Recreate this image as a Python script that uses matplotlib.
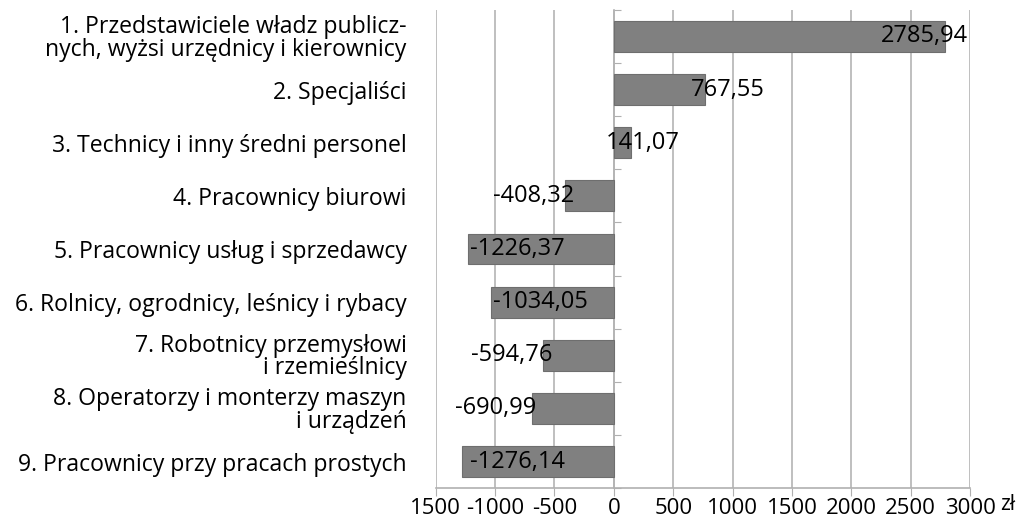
import matplotlib
matplotlib.use("Agg")
from matplotlib import pyplot as plt
import numpy as np

categories = [
    "1. Przedstawiciele władz publicz-\nnych, wyżsi urzędnicy i kierownicy",
    "2. Specjaliści",
    "3. Technicy i inny średni personel",
    "4. Pracownicy biurowi",
    "5. Pracownicy usług i sprzedawcy",
    "6. Rolnicy, ogrodnicy, leśnicy i rybacy",
    "7. Robotnicy przemysłowi\ni rzemieślnicy",
    "8. Operatorzy i monterzy maszyn\ni urządzeń",
    "9. Pracownicy przy pracach prostych",
]
values = [2785.94, 767.55, 141.07, -408.32, -1226.37, -1034.05, -594.76, -690.99, -1276.14]
x_ticks = [-1500, -1000, -500, 0, 500, 1000, 1500, 2000, 2500, 3000]
x_tick_labels = ["1500", "-1000", "-500", "0", "500", "1000", "1500", "2000", "2500", "3000"]

# label nudges (pixels, relative to bar end) to mimic the hand-placed labels
label_shift = [-20, 23, 12, -32, 49, 49, -32, -36, 55]

plt.rcParams["font.family"] = ["Open Sans", "DejaVu Sans"]

fig = plt.figure(figsize=(10.18, 5.22), dpi=100)
ax = fig.add_axes([0.428, 0.065, 0.525, 0.916])

y = np.arange(len(values))
ax.barh(y, values, height=0.58, color="#808080", edgecolor="#6e6e6e", linewidth=0.8, zorder=3)
ax.set_ylim(len(values) - 0.5, -0.5)
ax.set_xlim(-1500, 3000)

ax.set_yticks(y, categories, fontsize=16.6, ha="right", linespacing=0.9)
ax.tick_params(axis="y", length=0, pad=21)
ax.set_xticks(x_ticks, x_tick_labels, fontsize=16)
ax.tick_params(axis="x", length=6, color="#b0b0b0", pad=1)

ax.grid(axis="x", color="#b4b4b4", linewidth=1.2, zorder=0)
for side in ["top", "right", "left"]:
    ax.spines[side].set_visible(False)
ax.spines["bottom"].set_color("#b0b0b0")
ax.spines["bottom"].set_linewidth(1.2)

# category axis sits at x = 0
sec = ax.secondary_yaxis(1500 / 4500)
sec.set_yticks(np.arange(len(values) + 1) - 0.5, [""] * (len(values) + 1))
sec.tick_params(direction="in", length=5, color="#b0b0b0")
sec.spines["left"].set_color("#b0b0b0")
sec.spines["left"].set_linewidth(1.2)

for i, v in enumerate(values):
    txt = f"{v:.2f}".replace(".", ",")
    ax.annotate(txt, (v, i), xytext=(label_shift[i] * 0.72, 0), textcoords="offset points",
                ha="center", va="center", fontsize=17, color="black", zorder=4)

fig.text(0.982, 0.033, "zł", fontsize=15, ha="left", va="center")

fig.savefig("out.png", dpi=100)
